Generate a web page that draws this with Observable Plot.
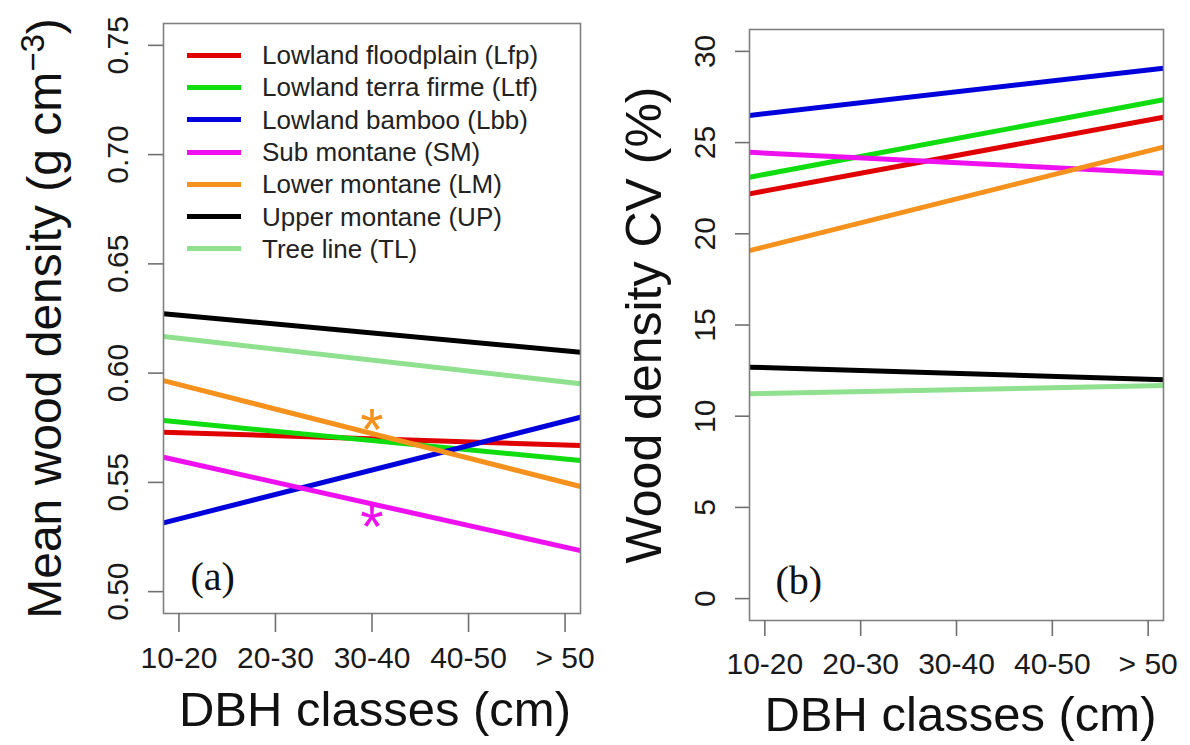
<!DOCTYPE html>
<html><head><meta charset="utf-8">
<script src="https://cdn.jsdelivr.net/npm/d3@7"></script>
<script src="https://cdn.jsdelivr.net/npm/@observablehq/plot@0.6"></script>
<style>
html,body{margin:0;padding:0;background:#fff;}
#wrap{position:relative;width:1190px;height:745px;overflow:hidden;font-family:"Liberation Sans",Arial,sans-serif;background:#fff;}
#left,#right{position:absolute;top:0;}
#left{left:0;} #right{left:595px;}
#legend{position:absolute;left:187px;top:39px;}
.row{display:flex;align-items:center;height:32.3px;}
.sw{width:54px;height:5px;margin-right:21px;}
.lab{font-size:26px;color:#222;white-space:nowrap;line-height:32px;}
</style></head><body>
<div id="wrap"><div id="left"></div><div id="right"></div><div id="legend"></div></div>
<script>
// ---- data ----
const forestTypes = ["Lowland floodplain (Lfp)","Lowland terra firme (Ltf)","Lowland bamboo (Lbb)","Sub montane (SM)","Lower montane (LM)","Upper montane (UP)","Tree line (TL)"];
const seriesColors = ["#e00000","#10dd10","#0000dd","#ee10ee","#f5921e","#000000","#8fe08f"];
const dbhClasses = ["10-20","20-30","30-40","40-50","> 50"];
const classPositions = [1,2,3,4,5];
const xExtent = [0.84, 5.16];

// panel (a): mean wood density, fitted line values at the left and right edges of the panel
const densityTicks = [0.50,0.55,0.60,0.65,0.70,0.75];
const densityDomain = [0.49, 0.76];
const densityAtLeft  = [0.5730,0.5783,0.5315,0.5615,0.5966,0.6272,0.6168];
const densityAtRight = [0.5669,0.5600,0.5798,0.5188,0.5481,0.6096,0.5951];
const sigSeries  = [4, 3];          // Lower montane, Sub montane
const sigClass   = [3, 3];          // 30-40
const sigDensity = [0.578, 0.534];

// panel (b): wood density CV
const cvTicks = [0,5,10,15,20,25,30];
const cvDomain = [-1.2, 31.2];
const cvAtLeft  = [22.19,23.10,26.49,24.47,19.08,12.69,11.23];
const cvAtRight = [26.39,27.35,29.08,23.32,24.75,12.00,11.68];

const yTitleA = ["Mean wood density (g cm", "\u22123", ")"];
const yTitleB = "Wood density CV (%)";
const xTitle = "DBH classes (cm)";
const panelTags = ["(a)", "(b)"];

// ---- helpers ----
const font = "Liberation Sans, Arial, sans-serif";
function rowsOf(atL, atR) {
  return forestTypes.flatMap((name, i) => [
    {name, x: xExtent[0], v: atL[i], c: seriesColors[i]},
    {name, x: xExtent[1], v: atR[i], c: seriesColors[i]}
  ]);
}

const rowsA = rowsOf(densityAtLeft, densityAtRight);
const rowsB = rowsOf(cvAtLeft, cvAtRight);
const sigRows = sigSeries.map((s, i) => ({x: sigClass[i], v: sigDensity[i], c: seriesColors[s]}));

function panel({rows, ticks, fmt, domain, marginLeft, marginRight, marginTop, marginBottom,
                yTitle, yTitleDx, yTitleSize, xTitleDy, xTitleDx, tag, tagDx, tagDy, xTickSize, xTickPad, yTickSize, yTickPad, extra}) {
  return Plot.plot({
    width: 595, height: 745,
    marginLeft, marginRight, marginTop, marginBottom,
    x: {domain: xExtent},
    y: {domain},
    color: {type: "identity"},
    style: {fontFamily: font, background: "transparent", overflow: "visible", color: "#222"},
    marks: [
      Plot.line(rows, {x: "x", y: "v", z: "name", stroke: "c", strokeWidth: 5, strokeLinecap: "butt"}),
      ...(extra || []),
      Plot.frame({stroke: "#808080", strokeWidth: 1.6}),
      Plot.axisY(ticks, {tickFormat: fmt, tickRotate: -90, tickSize: yTickSize, tickPadding: yTickPad,
        fontSize: 30, stroke: "#707070", strokeWidth: 1.6, fill: "#1a1a1a", label: null}),
      Plot.axisX(classPositions, {tickFormat: (d) => dbhClasses[d - 1], tickSize: xTickSize, tickPadding: xTickPad,
        fontSize: 30, stroke: "#707070", strokeWidth: 1.6, fill: "#1a1a1a", label: null}),
      Plot.text([yTitle], {text: (d) => d, frameAnchor: "left", rotate: -90, dx: yTitleDx, lineAnchor: "bottom",
        textAnchor: "middle", fontSize: yTitleSize, fill: "#111"}),
      Plot.text([xTitle], {text: (d) => d, frameAnchor: "bottom", dy: xTitleDy, dx: xTitleDx, lineAnchor: "bottom",
        textAnchor: "middle", fontSize: 49, fill: "#111"}),
      Plot.text([tag], {text: (d) => d, frameAnchor: "bottom-left", dx: tagDx, dy: tagDy, lineAnchor: "bottom",
        textAnchor: "start", fontSize: 40, fontFamily: "Liberation Serif, Times New Roman, serif", fill: "#111"})
    ]
  });
}

const left = panel({
  rows: rowsA, ticks: densityTicks, fmt: d3.format(".2f"), domain: densityDomain,
  marginLeft: 163, marginRight: 15, marginTop: 23, marginBottom: 132,
  yTitle: yTitleA.join(""), yTitleDx: -103, yTitleSize: 48, xTitleDy: 112, xTitleDx: 3,
  tag: panelTags[0], tagDx: 27, tagDy: -24, xTickSize: 19, xTickPad: 14, yTickSize: 15, yTickPad: 21,
  extra: [Plot.text(sigRows, {x: "x", y: "v", text: () => "*", fill: "c", fontSize: 60, dy: 10})]
});
document.getElementById("left").appendChild(left);

const right = panel({
  rows: rowsB, ticks: cvTicks, fmt: d3.format("d"), domain: cvDomain,
  marginLeft: 154, marginRight: 27, marginTop: 29, marginBottom: 125,
  yTitle: yTitleB, yTitleDx: -89, yTitleSize: 50, xTitleDy: 110, xTitleDx: 4,
  tag: panelTags[1], tagDx: 26, tagDy: -27, xTickSize: 16, xTickPad: 16, yTickSize: 14, yTickPad: 21
});
document.getElementById("right").appendChild(right);

// superscript in the y title of panel (a)
d3.select(left).selectAll("text").filter(function () { return this.textContent === yTitleA.join(""); })
  .each(function () {
    const t = d3.select(this);
    t.text(null);
    t.append("tspan").text(yTitleA[0]);
    t.append("tspan").attr("dy", "-17px").style("font-size", "33px").text(yTitleA[1]);
    t.append("tspan").attr("dy", "17px").text(yTitleA[2]);
  });

// legend
const lg = d3.select("#legend");
forestTypes.forEach((name, i) => {
  const r = lg.append("div").attr("class", "row");
  r.append("div").attr("class", "sw").style("background", seriesColors[i]);
  r.append("div").attr("class", "lab").text(name);
});
</script>
</body></html>
